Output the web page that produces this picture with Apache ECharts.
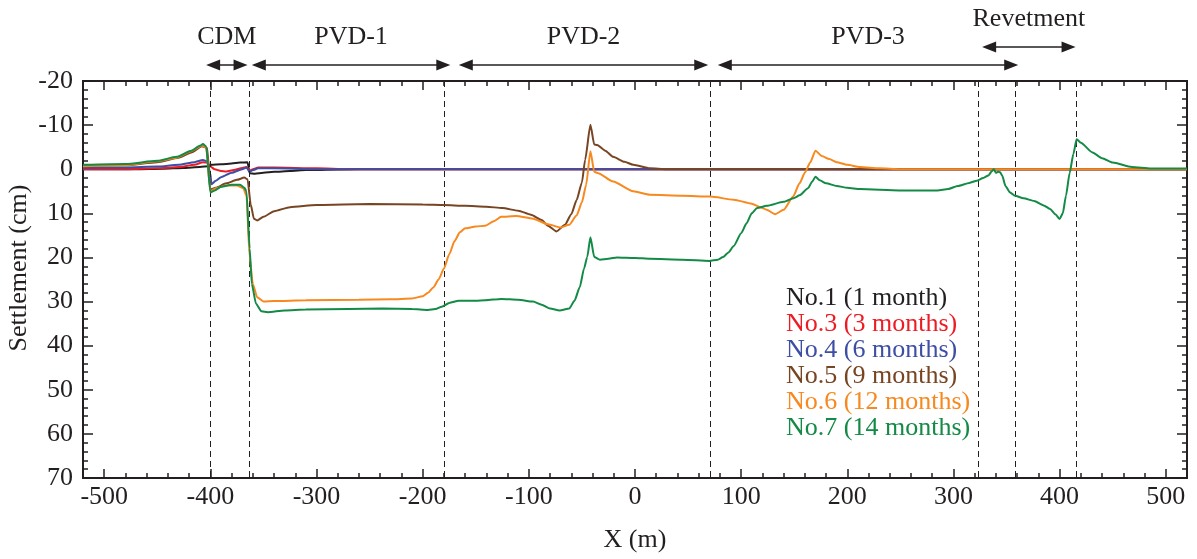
<!DOCTYPE html>
<html>
<head>
<meta charset="utf-8">
<script src="https://cdn.jsdelivr.net/npm/echarts@6/dist/echarts.min.js"></script>
<style>
html,body{margin:0;padding:0;background:#fff;}
#c{width:1197px;height:559px;}
</style>
</head>
<body>
<div id="c"></div>
<script>
// ---------- data ----------
const seriesNames = ['No.1 (1 month)', 'No.3 (3 months)', 'No.4 (6 months)', 'No.5 (9 months)', 'No.6 (12 months)', 'No.7 (14 months)'];
const seriesColors = ['#231f20', '#ed1c24', '#3d4ea4', '#774522', '#f7891f', '#138a45'];

const xMajorTicks = [-500, -400, -300, -200, -100, 0, 100, 200, 300, 400, 500];
const xMinorTicks = [-500, -480, -460, -440, -420, -400, -380, -360, -340, -320, -300, -280, -260, -240, -220, -200, -180, -160, -140, -120, -100, -80, -60, -40, -20, 0, 20, 40, 60, 80, 100, 120, 140, 160, 180, 200, 220, 240, 260, 280, 300, 320, 340, 360, 380, 400, 420, 440, 460, 480, 500];
const xRange = [-520, 520];
const yRange = [-20, 70];

const boundaries = [-400, -363, -180, 71, 323, 358, 416];
const zoneLabels = ['CDM', 'PVD-1', 'PVD-2', 'PVD-3', 'Revetment'];
const zoneFrom = [-404, -361, -166, 78, 327];
const zoneTo = [-365, -174, 69, 361, 415];
const zoneRow = [0, 0, 0, 0, 1];

const no1 = [[-520,0],[-470,0],[-445,-0.1],[-425,-0.3],[-410,-0.5],[-401,-0.7],[-399,-1.0],[-390,-1.1],[-380,-1.3],[-372,-1.5],[-365,-1.6],[-363,0.9],[-358,1.0],[-350,0.8],[-340,0.6],[-325,0.4],[-310,0.2],[-290,0.1],[-260,0],[520,0]];
const no3 = [[-520,0],[-480,0],[-450,-0.2],[-430,-0.5],[-415,-1.0],[-407,-1.6],[-403,-1.5],[-400,-0.6],[-396,0],[-390,0.4],[-385,0.5],[-378,0.2],[-370,-0.3],[-366,-0.5],[-363,0.3],[-360,0],[-355,-0.4],[-340,-0.4],[-300,-0.2],[-270,0],[520,0]];
const no4 = [[-520,-0.3],[-480,-0.4],[-450,-0.6],[-430,-1.0],[-415,-1.6],[-407,-2.1],[-403,-1.8],[-400,1.0],[-399,3.4],[-395,2.6],[-390,1.8],[-380,0.8],[-370,0],[-366,-0.4],[-363,0.6],[-360,0.2],[-355,-0.2],[-340,-0.2],[-300,0],[520,0]];
const no5 = [[-520,-0.7],[-480,-0.9],[-450,-1.6],[-430,-2.6],[-418,-3.8],[-408,-5.2],[-403,-4.8],[-400,4.6],[-395,4.2],[-385,3.2],[-375,2.4],[-368,1.9],[-365,2.3],[-362,8],[-359,11.2],[-356,11.6],[-350,10.8],[-340,9.5],[-325,8.6],[-300,8.1],[-250,7.9],[-200,8.0],[-180,8.1],[-160,8.3],[-140,8.5],[-125,8.8],[-110,9.4],[-98,10.3],[-88,11.5],[-82,12.8],[-74,14.1],[-66,12.6],[-60,10.2],[-55,7.0],[-50,3.0],[-47,-2.1],[-42,-10.1],[-38.4,-5.6],[-35.6,-5.5],[-28,-4.2],[-20.6,-2.8],[-10,-1.7],[-1.7,-1.0],[14,-0.2],[30,0],[520,0]];
const no6 = [[-520,-0.7],[-480,-0.9],[-450,-1.8],[-432,-2.6],[-418,-4.1],[-408,-5.4],[-404,-4.9],[-400,5.0],[-395,4.3],[-385,3.7],[-375,3.7],[-369,4.3],[-366,6],[-363,20],[-360,26],[-356,29],[-350,30],[-340,29.9],[-310,29.7],[-260,29.6],[-230,29.5],[-210,29.3],[-200,28.8],[-195,28],[-190,26.8],[-185,25],[-180,22.5],[-175,19.3],[-170,16.3],[-165,14.3],[-160,13.4],[-150,13.0],[-141,12.8],[-133,11.8],[-126,10.8],[-112,10.6],[-96,11.2],[-82,12.5],[-70,13.2],[-62,12.6],[-55,10.5],[-50,7.5],[-46,3.5],[-42,-4.1],[-38.4,0.6],[-34.7,0.9],[-20.6,2.8],[-1.7,5.0],[14,5.8],[45,6.0],[71,6.2],[93,6.9],[110,7.8],[118,8.6],[124,9.2],[132,10.2],[140,9.2],[149,6.2],[155,3.2],[160,0.8],[165,-1.5],[170,-4.2],[176,-3.0],[183,-2.3],[190,-1.6],[200,-1.0],[212,-0.5],[230,-0.2],[250,0],[520,0]];
const no7 = [[-520,-1.0],[-480,-1.2],[-450,-1.9],[-432,-2.8],[-418,-4.2],[-410,-5.3],[-407,-5.7],[-404,-5.2],[-400,5.3],[-396,4.8],[-390,4.0],[-380,3.5],[-372,3.5],[-368,4.2],[-366,5],[-363,18],[-361,26],[-357,30.5],[-352,32.2],[-346,32.4],[-330,32],[-310,31.8],[-270,31.7],[-238,31.6],[-210,31.7],[-195,31.9],[-188,31.7],[-182,31.2],[-175,30.3],[-166,29.8],[-150,29.8],[-141,29.7],[-126,29.4],[-110,29.6],[-96,30.0],[-88,30.7],[-80,31.6],[-71,32],[-62,31.6],[-57,29.8],[-52,26.7],[-48,22.5],[-45,19.9],[-42,15.4],[-38.4,19.9],[-33,20.5],[-25,20.3],[-17,20.0],[0,20.1],[14,20.3],[45,20.5],[70,20.8],[78,20.5],[83,19.9],[88,18.9],[93,17.4],[100,14.5],[105,12.3],[110,10.0],[115,8.8],[124,8.3],[140,7.4],[150,6.5],[155,5.9],[163,4.3],[167,2.8],[170,1.7],[174,2.5],[180,3.2],[190,3.8],[200,4.2],[212,4.5],[249,4.8],[285,4.8],[295,4.5],[304,3.8],[315,3.1],[322,2.6],[328,2.0],[333,1.4],[336,0.5],[338,0],[340,0.8],[342,0.6],[344,0.7],[346,1.5],[349,3.8],[353,5.2],[358,6.0],[366,6.6],[376,7.2],[385,8.2],[391,9.0],[396,10.2],[400,11.3],[403,10.0],[406,6],[409.5,0.8],[413,-3.5],[416,-6.8],[420,-6.0],[431,-3.8],[440,-2.5],[450,-1.5],[468,-0.5],[486,-0.15],[520,-0.15]];
const seriesData = [no1, no3, no4, no5, no6, no7];

// ---------- chart ----------
const FONT = "'Liberation Serif', 'Times New Roman', serif";
const INK = '#231f20';
const chart = echarts.init(document.getElementById('c'), null, {renderer: 'canvas'});

function xAxisDef(pos, major, showLabels) {
  return {
    type: 'value', position: pos, min: xRange[0], max: xRange[1],
    name: (pos === 'bottom' && major) ? 'X (m)' : '',
    nameLocation: 'middle', nameGap: 49, nameMoveOverlap: false,
    nameTextStyle: {fontFamily: FONT, fontSize: 26, color: INK},
    axisLine: {show: true, onZero: false, lineStyle: {color: INK, width: 2}},
    axisTick: {show: true, inside: true, length: major ? 9 : 5, lineStyle: {color: INK, width: 1.5},
               customValues: major ? xMajorTicks : xMinorTicks},
    axisLabel: {show: showLabels, customValues: xMajorTicks, margin: 6,
                fontFamily: FONT, fontSize: 26, color: INK},
    splitLine: {show: false}
  };
}
function yAxisDef(pos, showLabels) {
  return {
    type: 'value', position: pos, inverse: true, min: yRange[0], max: yRange[1], interval: 10,
    name: showLabels ? 'Settlement (cm)' : '',
    nameLocation: 'middle', nameGap: 51, nameRotate: 90, nameMoveOverlap: false,
    nameTextStyle: {fontFamily: FONT, fontSize: 26, color: INK, padding: [0, 0, 0, 23]},
    axisLine: {show: true, onZero: false, lineStyle: {color: INK, width: 2}},
    axisTick: {show: true, inside: true, length: 10, lineStyle: {color: INK, width: 1.5}},
    minorTick: {show: true, splitNumber: 5, length: 5, lineStyle: {color: INK, width: 1.5}},
    axisLabel: {show: showLabels, margin: 10, fontFamily: FONT, fontSize: 26, color: INK},
    splitLine: {show: false}, minorSplitLine: {show: false}
  };
}

const series = seriesData.map((d, i) => ({
  name: seriesNames[i], type: 'line', data: d, xAxisIndex: 0, yAxisIndex: 0,
  showSymbol: false, symbol: 'none', smooth: 0.2, smoothMonotone: 'x',
  lineStyle: {color: seriesColors[i], width: 2}, itemStyle: {color: seriesColors[i]},
  z: 2 + i, silent: true,
  markLine: i === 0 ? {
    silent: true, symbol: ['none', 'none'], label: {show: false},
    lineStyle: {type: [6, 4], color: INK, width: 1},
    data: boundaries.map(b => ({xAxis: b}))
  } : undefined
}));

chart.setOption({
  animation: false,
  backgroundColor: '#fff',
  grid: {left: 83, right: 10, top: 81, bottom: 81, containLabel: false, outerBoundsMode: 'none'},
  xAxis: [xAxisDef('bottom', true, true), xAxisDef('bottom', false, false), xAxisDef('top', true, false), xAxisDef('top', false, false)],
  yAxis: [yAxisDef('left', true), yAxisDef('right', false)],
  legend: {
    orient: 'vertical', left: 781, top: 285, padding: 0, itemGap: 0,
    itemWidth: 0, itemHeight: 0, icon: 'rect', selectedMode: false,
    textStyle: {fontFamily: FONT, fontSize: 26, lineHeight: 26, padding: 0},
    data: seriesNames.map((n, i) => ({name: n, textStyle: {color: seriesColors[i]}}))
  },
  series: series
});

// zone annotations above the plot
const rowArrowY = [65, 47];
const rowTextY = [37, 19];
const graphics = [];
zoneLabels.forEach((lab, i) => {
  const x1 = chart.convertToPixel({xAxisIndex: 0}, zoneFrom[i]);
  const x2 = chart.convertToPixel({xAxisIndex: 0}, zoneTo[i]);
  const y = rowArrowY[zoneRow[i]];
  const hl = 14, hw = 5.5;
  graphics.push({type: 'line', shape: {x1: x1 + hl - 1, y1: y, x2: x2 - hl + 1, y2: y}, style: {stroke: INK, lineWidth: 1.5}, silent: true});
  graphics.push({type: 'polygon', shape: {points: [[x1, y], [x1 + hl, y - hw], [x1 + hl, y + hw]]}, style: {fill: INK}, silent: true});
  graphics.push({type: 'polygon', shape: {points: [[x2, y], [x2 - hl, y - hw], [x2 - hl, y + hw]]}, style: {fill: INK}, silent: true});
  graphics.push({type: 'text', x: (x1 + x2) / 2, y: rowTextY[zoneRow[i]], silent: true,
    style: {text: lab, fill: INK, font: '26px ' + FONT, align: 'center', verticalAlign: 'middle'}});
});
chart.setOption({graphic: graphics});
</script>
</body>
</html>
